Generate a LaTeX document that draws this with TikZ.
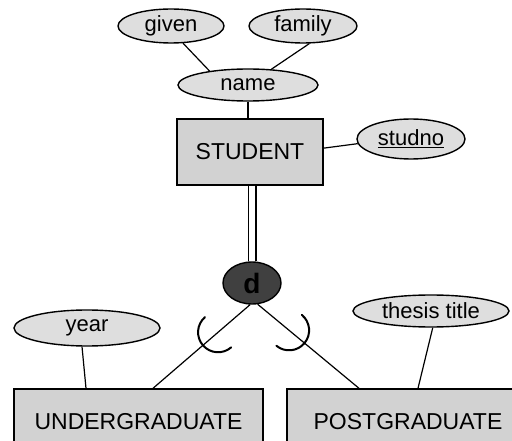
\documentclass[tikz,border=0pt]{standalone}
\usepackage{fontspec}
\setmainfont{Liberation Sans}
\usetikzlibrary{shapes.geometric}
\definecolor{attrfill}{RGB}{222,222,222}
\definecolor{entfill}{RGB}{210,210,210}
\definecolor{specfill}{RGB}{64,64,64}
\begin{document}
\begin{tikzpicture}[x=1pt,y=-1pt,
  attr/.style={ellipse,draw=black,line width=1.4pt,fill=attrfill,inner sep=0pt,
    font=\fontsize{22}{26}\selectfont},
  entity/.style={rectangle,draw=black,line width=1.4pt,fill=entfill,inner sep=0pt,
    minimum height=66pt,font=\fontsize{23}{27}\selectfont},
  spec/.style={ellipse,draw=black,line width=1.4pt,fill=specfill,inner sep=0pt,
    minimum width=58pt,minimum height=42pt,font=\fontsize{28}{32}\selectfont\bfseries},
  link/.style={draw=black,line width=1.2pt},
  subset/.style={draw=black,line width=2pt,line cap=round}]
\useasboundingbox (0,0) rectangle (512,441);
\clip (0,0) rectangle (512,441);

% attributes
\node[attr,minimum width=106pt,minimum height=34pt] (given) at (171,26) {given};
\node[attr,minimum width=108pt,minimum height=34pt] (family) at (303,26) {family};
\node[attr,minimum width=140pt,minimum height=32pt] (name) at (248,85) {name};
\node[attr,minimum width=108pt,minimum height=40pt] (studno) at (411,139) {\underline{studno}};
\node[attr,minimum width=146pt,minimum height=36pt] (year) at (87,328) {year};
\node[attr,minimum width=156pt,minimum height=32pt] (thesis) at (431,311) {thesis title};

% entities
\node[entity,minimum width=146pt] (student) at (250,152) {STUDENT};
\node[entity,minimum width=249pt] (ug) at (138.5,422) {UNDERGRADUATE};
\node[entity,minimum width=242pt] (pg) at (408,422) {\raisebox{2pt}{POSTGRADUATE}};

% specialisation circle
\node[spec] (d) at (252,283) {d};

% attribute links
\draw[link] (given.-55) -- (name.160);
\draw[link] (family.-70) -- (name.34);
\draw[link] (name.south) -- (name.south |- student.north);
\draw[link] (student.3) -- (studno.185);
\draw[link] (year.-105) -- ([xshift=-52.5pt]ug.north);
\draw[link] (thesis.-84) -- ([xshift=10pt]pg.north);

% total participation (double line)
\draw[draw=black,line width=1.2pt,double=white,double distance=6.6pt]
  (d.north |- student.south) -- (d.north);

% specialisation links with subset marks (y axis points down here)
\draw[link] (d.-95) -- coordinate[pos=0.33] (subL) ([xshift=14.5pt]ug.north);
\draw[link] (d.-75) -- coordinate[pos=0.31] (subR) ([xshift=-49pt]pg.north);
\draw[subset] (subL) ++(-131:20) arc[start angle=-131,end angle=-311,radius=20];
\draw[subset] (subR) ++(-50.5:20) arc[start angle=-50.5,end angle=129.5,radius=20];
\end{tikzpicture}
\end{document}
